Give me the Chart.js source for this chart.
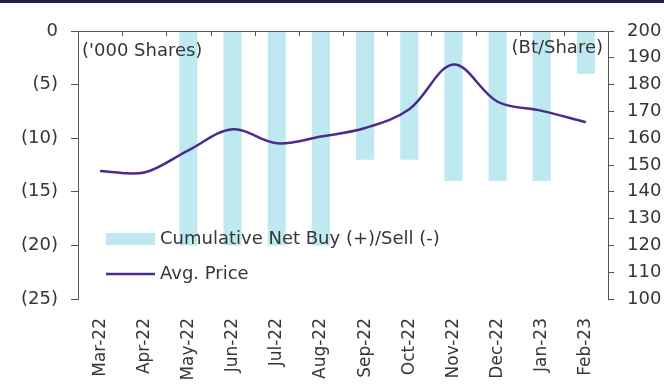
<!DOCTYPE html>
<html>
<head>
<meta charset="utf-8">
<script src="https://cdn.jsdelivr.net/npm/chart.js@4.4.1/dist/chart.umd.min.js"></script>
<style>
  html, body { margin: 0; padding: 0; background: #fff; }
  #wrap { position: relative; width: 664px; height: 385px; }
  #topBand { position: absolute; left: 0; top: 0; width: 664px; height: 3px; background: #2e1a57; }
  canvas { display: block; }
</style>
</head>
<body>
<div id="wrap">
  <canvas id="chart" width="664" height="385"></canvas>
  <div id="topBand"></div>
</div>
<script>
// --- Data ---
const months = ['Mar-22', 'Apr-22', 'May-22', 'Jun-22', 'Jul-22', 'Aug-22',
                'Sep-22', 'Oct-22', 'Nov-22', 'Dec-22', 'Jan-23', 'Feb-23'];
const netBuySell = [0, 0, -20, -20, -20, -20, -12, -12, -14, -14, -14, -4];   // '000 shares
const avgPrice = [147.8, 147.2, 155.5, 163.3, 158.1, 160.6, 163.8, 170.8, 187.5, 173.6, 170.2, 166.0]; // Bt/share

const leftTicks = [0, -5, -10, -15, -20, -25];
const rightTicks = [100, 110, 120, 130, 140, 150, 160, 170, 180, 190, 200];

// --- Styles ---
const FONT = '"DejaVu Sans", sans-serif';
const TEXT_COLOR = '#363636';
const AXIS_COLOR = '#555555';
const BAR_COLOR = '#bfe9f0';
const LINE_COLOR = '#4b2a8c';

const fmtShares = (v) => v === 0 ? '0' : '(' + Math.abs(v) + ')';

// top category axis line (value 0) with boundary ticks, unit captions and legend
const decorations = {
  id: 'decorations',
  afterDatasetsDraw(chart) {
    const { ctx, chartArea: a, scales: { x, y } } = chart;
    const y0 = y.getPixelForValue(0);

    ctx.save();
    ctx.strokeStyle = AXIS_COLOR;
    ctx.lineWidth = 1;
    ctx.beginPath();
    ctx.moveTo(a.left, y0 + 0.5);
    ctx.lineTo(a.right, y0 + 0.5);
    for (let i = 1; i < months.length; i++) {
      const px = Math.round((x.getPixelForValue(i - 1) + x.getPixelForValue(i)) / 2) + 0.5;
      ctx.moveTo(px, y0);
      ctx.lineTo(px, y0 + 5);
    }
    ctx.stroke();

    ctx.font = '18px ' + FONT;
    ctx.fillStyle = TEXT_COLOR;
    ctx.textBaseline = 'middle';
    ctx.textAlign = 'left';
    ctx.fillText("('000 Shares)", a.left + 4, a.top + 20);
    ctx.textAlign = 'right';
    ctx.fillText('(Bt/Share)', a.right - 5, a.top + 17);

    // legend
    const ds = chart.data.datasets;
    const lx = a.left + 28;
    ctx.textAlign = 'left';
    ctx.fillStyle = ds[0].backgroundColor;
    ctx.fillRect(lx, a.top + 202, 49, 12);
    ctx.fillStyle = TEXT_COLOR;
    ctx.fillText(ds[0].label, lx + 54, a.top + 208);

    ctx.strokeStyle = ds[1].borderColor;
    ctx.lineWidth = 2.5;
    ctx.beginPath();
    ctx.moveTo(lx, a.top + 243);
    ctx.lineTo(lx + 49, a.top + 243);
    ctx.stroke();
    ctx.fillText(ds[1].label, lx + 54, a.top + 243);
    ctx.restore();
  }
};

new Chart(document.getElementById('chart'), {
  data: {
    labels: months,
    datasets: [
      {
        type: 'bar',
        label: 'Cumulative Net Buy (+)/Sell (-)',
        data: netBuySell,
        yAxisID: 'y',
        backgroundColor: BAR_COLOR,
        barPercentage: 0.41,
        categoryPercentage: 1,
        order: 2
      },
      {
        type: 'line',
        label: 'Avg. Price',
        data: avgPrice,
        yAxisID: 'y1',
        borderColor: LINE_COLOR,
        borderWidth: 2.5,
        pointRadius: 0,
        tension: 0.35,
        fill: false,
        order: 1
      }
    ]
  },
  options: {
    responsive: false,
    animation: false,
    layout: { padding: { top: 31, left: 0, right: 0, bottom: 0 } },
    plugins: {
      legend: { display: false },
      tooltip: { enabled: false }
    },
    scales: {
      x: {
        position: 'bottom',
        offset: true,
        grid: { display: false },
        border: { display: false },
        ticks: {
          color: TEXT_COLOR,
          font: { family: FONT, size: 17 },
          minRotation: 90,
          maxRotation: 90,
          padding: 11,
          autoSkip: false
        },
        afterFit: (s) => { s.height = 86; }
      },
      y: {
        position: 'left',
        min: -25,
        max: 0,
        afterBuildTicks: (s) => { s.ticks = leftTicks.map(v => ({ value: v })); },
        grid: { drawOnChartArea: false, tickLength: 7, color: AXIS_COLOR },
        border: { display: true, color: AXIS_COLOR },
        ticks: {
          color: TEXT_COLOR,
          font: { family: FONT, size: 18 },
          padding: 13,
          callback: (v) => fmtShares(v)
        },
        afterFit: (s) => { s.width = 78; }
      },
      y1: {
        position: 'right',
        min: 100,
        max: 200,
        afterBuildTicks: (s) => { s.ticks = rightTicks.map(v => ({ value: v })); },
        grid: { drawOnChartArea: false, tickLength: 6, color: AXIS_COLOR },
        border: { display: true, color: AXIS_COLOR },
        ticks: {
          color: TEXT_COLOR,
          font: { family: FONT, size: 18 },
          padding: 13
        },
        afterFit: (s) => { s.width = 56; }
      }
    }
  },
  plugins: [decorations]
});
</script>
</body>
</html>
